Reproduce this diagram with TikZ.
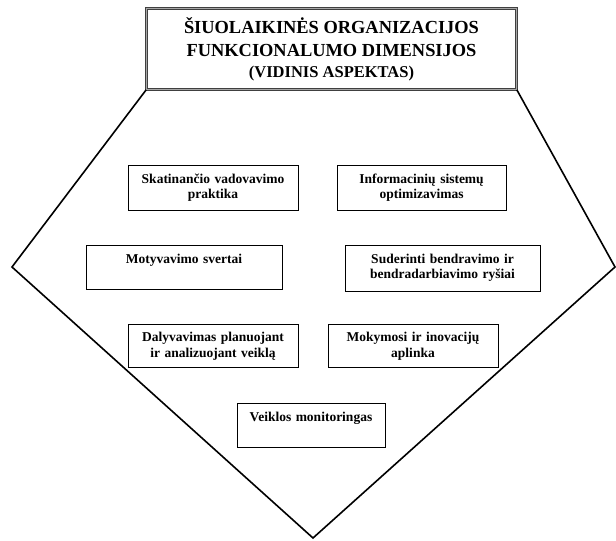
\documentclass[tikz,border=0pt]{standalone}
\usepackage{fontspec}
\setmainfont{Liberation Serif}
\usetikzlibrary{calc}

\begin{document}
\begin{tikzpicture}[x=1pt,y=-1pt,
	blokas/.style 2 args={draw,line width=.8pt,inner sep=0pt,align=center,
		minimum width=#1,text width=#1-8pt,minimum height=#2,
		font=\bfseries\fontsize{13.5}{15.5}\selectfont}]
	\useasboundingbox (0,0) rectangle (616,541);
	%	\draw[thin,densely dashed,gray] (0,0) grid[step=50] (616,541);
	\node[draw=black!75,double=black!35,double distance=1.4pt,line width=.7pt,
		minimum width=370pt,minimum height=81pt,align=center,
		font=\bfseries\fontsize{18.4}{23}\selectfont] (antr) at (331.5,49)
		{ŠIUOLAIKINĖS ORGANIZACIJOS\\FUNKCIONALUMO DIMENSIJOS\\[-2pt]
		{\fontsize{16.5}{20}\selectfont(VIDINIS ASPEKTAS)}};
	
	\draw[line width=1.6pt] (antr.south west) -- (12,267) -- (313,538) -- (615,267) -- (antr.south east);
	
	\node[blokas={170pt}{45pt}] (sk)  at (213,187.5) {Skatinančio vadovavimo\\praktika};
	\node[blokas={169pt}{45pt}] (inf) at (421.5,187.5) {Informacinių sistemų\\optimizavimas};
	\node[blokas={196pt}{44pt}] (mot) at (184,267) {Motyvavimo svertai\\~};
	\node[blokas={195pt}{46pt}] (sud) at (442.5,268) {Suderinti bendravimo ir\\bendradarbiavimo ryšiai};
	\node[blokas={170pt}{43pt}] (dal) at (213,346) {Dalyvavimas planuojant\\ir analizuojant veiklą};
	\node[blokas={170pt}{43pt}] (mok) at (413,346) {Mokymosi ir inovacijų\\aplinka};
	\node[blokas={148pt}{44pt}] (vei) at (311,425) {Veiklos monitoringas\\~};
	
\end{tikzpicture}
\end{document}
